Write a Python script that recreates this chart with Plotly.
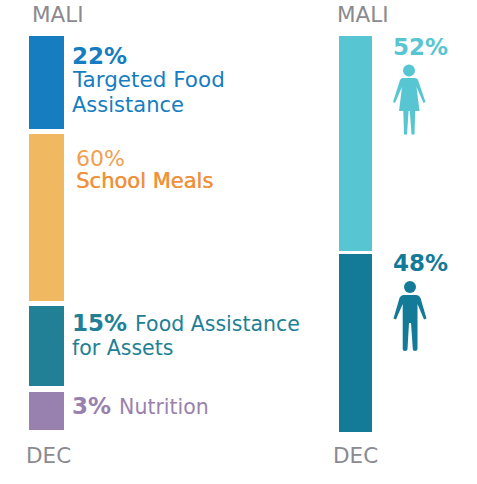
import plotly.graph_objects as go

# Programme split (labels) and drawn segment extents
programme_names = ["Targeted Food Assistance", "School Meals", "Food Assistance for Assets", "Nutrition"]
programme_share = [22, 60, 15, 3]
programme_top = [36, 134, 306, 392]
programme_len = [93, 167, 80, 38]
programme_col = ["#167dc1", "#f1b862", "#218095", "#9881ae"]

gender_names = ["Women", "Men"]
gender_share = [52, 48]
gender_top = [36, 254]
gender_len = [215, 178]
gender_col = ["#57c6d2", "#137b98"]

GREY = "#8a8a90"
FONT = "DejaVu Sans"
BOLD = 'style="font-size:23px"'

fig = go.Figure()
fig.add_trace(go.Bar(x=[46.5] * 4, y=programme_len, base=programme_top, width=35,
                     marker=dict(color=programme_col, line_width=0),
                     customdata=programme_share, text=programme_names, textposition="none",
                     hoverinfo="text"))
fig.add_trace(go.Bar(x=[355.5] * 2, y=gender_len, base=gender_top, width=33,
                     marker=dict(color=gender_col, line_width=0),
                     customdata=gender_share, text=gender_names, textposition="none",
                     hoverinfo="text"))

def note(x, y, text, color, size=20, **kw):
    fig.add_annotation(x=x, y=y, text=text, showarrow=False, xanchor="left", yanchor="middle",
                       align="left", xshift=-2, font=dict(family=FONT, size=size, color=color, **kw))

for x, y, t, s in [(32, 14, "MALI", 21.5), (337, 14, "MALI", 21.5), (26, 455, "DEC", 21.5), (333, 455, "DEC", 21.5)]:
    note(x, y, t, GREY, s)

def strong(v, tail=""):
    return f"<span {BOLD}><b>{v}%{tail}</b></span>"

note(72, 56, strong(programme_share[0]), programme_col[0], 23)
note(72, 79, "Targeted Food", programme_col[0], 21.5)
note(72, 105, "Assistance", programme_col[0], 21)
note(76, 158, f"{programme_share[1]}%", "#f2a04e", 22)
note(76, 181, "School Meals", "#f0923c", 21, shadow="0.5px 0 0 #f0923c")
note(72, 323, strong(programme_share[2], "&nbsp;") + "Food Assistance", programme_col[2], 20.5)
note(72, 348, "for Assets", programme_col[2], 20.5)
note(72, 406, strong(programme_share[3], "&nbsp;") + "Nutrition", programme_col[3], 20.5)
note(393, 47, strong(gender_share[0]), gender_col[0], 23)
note(393, 263, strong(gender_share[1]), gender_col[1], 23)

def icon(path, color, stroke=0):
    fig.add_shape(type="path", path=path, xref="x", yref="y", fillcolor=color,
                  line=dict(color=color, width=stroke))

def head(cx, cy, r, color):
    fig.add_shape(type="circle", x0=cx - r, x1=cx + r, y0=cy - r, y1=cy + r, xref="x", yref="y",
                  fillcolor=color, line_width=0)

W = gender_col[0]
head(409, 70.5, 6, W)
icon("M403,78 L415,78 Q417,78 418,80 L425.5,102 L423.5,103 L416.5,87 L419.5,111 L415.2,111 L414.5,134.5 "
     "L411.5,134.5 L409.8,111 L408.6,111 L407,134.5 L404,134.5 L403.3,111 L399,111 L402,87 L395,103 "
     "L393,102 L400,80 Q401,78 403,78 Z", W)

M = gender_col[1]
head(410, 287, 6, M)
icon("M404,295 L416,295 Q419,295 420.5,298 L426.5,318.5 L424,319.5 L417.5,304 L417.5,349 Q417.5,351 415,351 "
     "Q412.8,351 412.8,349 L411,323 L409,323 L407.5,349 Q407.5,351 405,351 Q402.6,351 402.7,349 L402.7,304 "
     "L396,319.5 L393.5,318.5 L399.5,298 Q401,295 404,295 Z", M)

fig.update_layout(
    width=477, height=484, margin=dict(l=0, r=0, t=0, b=0), autosize=False,
    paper_bgcolor="white", plot_bgcolor="white", showlegend=False, barmode="overlay",
    xaxis=dict(range=[0, 477], visible=False, fixedrange=True),
    yaxis=dict(range=[484, 0], visible=False, fixedrange=True),
)
fig.write_html("out.html", config={"displayModeBar": False}, post_script="document.body.style.margin='0';")
